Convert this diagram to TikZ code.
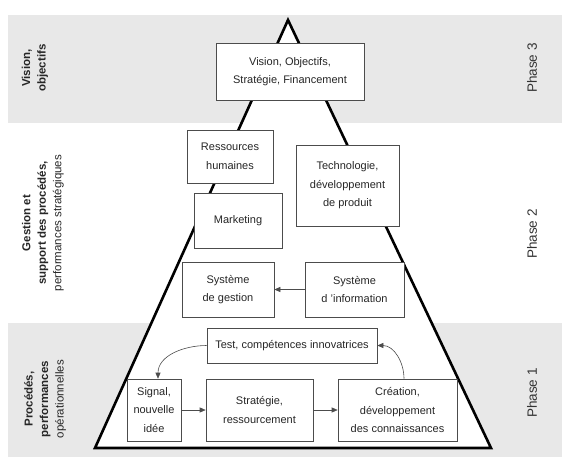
\documentclass[tikz,border=0pt]{standalone}
\usepackage{fontspec}
\setmainfont{Liberation Sans}
\usetikzlibrary{arrows.meta,positioning}

\begin{document}
\begin{tikzpicture}[x=1pt,y=-1pt]
    \tikzset{Boite/.style = {draw=black!70, line width=0.6pt, fill=white,
        text=black!85, align=center, inner sep=0pt,
        font=\fontsize{11}{18.5}\selectfont},
      Lien/.style = {draw=black!70, line width=0.6pt,
        -{Triangle[length=6pt,width=5pt]}},
      Phase/.style = {rotate=90, text=black!80,
        font=\fontsize{13.5}{16}\selectfont},
      Niveau/.style = {rotate=90, align=center, text=black!85,
        font=\fontsize{11.5}{15.5}\selectfont}}
    \useasboundingbox (0,0) rectangle (562,459);
    \fill[gray!18] (8,15) rectangle (562,123);
    \fill[gray!18] (8,323) rectangle (562,457);
    \draw[fill=white, line width=2.6pt, line join=miter] (288,20) -- (491,448) -- (95,448) -- cycle;
    \node[Boite, minimum width=148pt, minimum height=57pt] (vision) at (290,71.5) {Vision, Objectifs,\\Stratégie, Financement};
    \node[Boite, minimum width=86pt, minimum height=53pt] (ressources) at (230,156.5) {Ressources\\humaines};
    \node[Boite, minimum width=103pt, minimum height=81pt] (techno) at (347.5,185.5) {Technologie,\\développement\\de produit};
    \node[Boite, minimum width=88pt, minimum height=55pt] (marketing) at (238,220.5) {Marketing};
    \node[Boite, minimum width=92pt, minimum height=55pt] (gestion) at (228,289.5) {Système\\de gestion};
    \node[Boite, minimum width=99pt, minimum height=55pt] (information) at (354.5,289.5) {Système\\d 'information};
    \node[Boite, minimum width=170pt, minimum height=35pt] (test) at (292,345.5) {Test, compétences innovatrices};
    \node[Boite, minimum width=54pt, minimum height=62pt] (signal) at (154,410) {Signal,\\nouvelle\\idée};
    \node[Boite, minimum width=107pt, minimum height=62pt] (strategie) at (259.5,410) {Stratégie,\\ressourcement};
    \node[Boite, minimum width=119pt, minimum height=62pt] (creation) at (397.5,410) {Création,\\développement\\des connaissances};
    \draw[Lien] (information) -- (gestion);
    \draw[Lien] (signal) -- (strategie);
    \draw[Lien] (strategie) -- (creation);
    \draw[Lien] ([xshift=6.5pt]creation.north) to[out=90, in=0] (test.east);
    \draw[Lien] (test.west) to[out=180, in=90] ([xshift=4pt]signal.north);
    \node[Niveau] (niveau3) at (35,68) {\textbf{Vision,}\\\textbf{objectifs}};
    \node[Niveau] (niveau2) at (43,223) {\textbf{Gestion et}\\\textbf{support des procédés,}\\performances stratégiques};
    \node[Niveau] (niveau1) at (45,399) {\textbf{Procédés,}\\\textbf{performances}\\opérationnelles};
    \node[Phase] (phase3) at (532,68) {Phase 3};
    \node[Phase] (phase2) at (532,234) {Phase 2};
    \node[Phase] (phase1) at (532,393) {Phase 1};
\end{tikzpicture}
\end{document}
